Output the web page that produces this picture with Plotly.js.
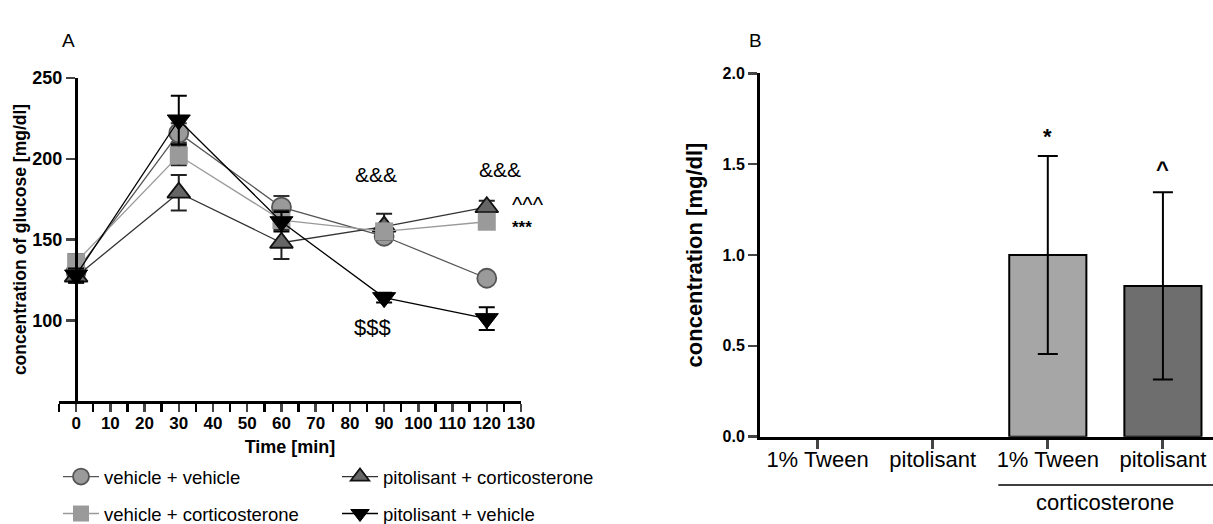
<!DOCTYPE html>
<html>
<head>
<meta charset="utf-8">
<script src="https://cdn.plot.ly/plotly-3.0.1.min.js"></script>
<style>html,body{margin:0;padding:0;background:#fff;}#chart{width:1213px;height:524px;}</style>
</head>
<body>
<div id="chart"></div>
<script>
// ---- Panel A data: glucose over time ----
const timePoints = [0, 30, 60, 90, 120];
const vehVeh = [130, 216, 170, 152, 126];
const vehVehErr = [6, 6, 7, 3, 3];
const vehCort = [136, 202, 162, 155, 161];
const vehCortErr = [5, 6, 6, 4, 4];
const pitCort = [127, 179, 148, 158, 170];
const pitCortErr = [4, 11, 10, 8, 4];
const pitVeh = [128, 224, 161, 114, 101];
const pitVehErr = [4, 15, 6, 3, 7];
const seriesNames = ["vehicle + vehicle", "vehicle + corticosterone", "pitolisant + corticosterone", "pitolisant + vehicle"];

// ---- Panel B data ----
const barCategories = ["1% Tween", "pitolisant", "1% Tween", "pitolisant"];
const barValues = [0, 0, 1.0, 0.83];
const barErrors = [0, 0, 0.545, 0.515];
const barColors = ["#a6a6a6", "#6e6e6e", "#a6a6a6", "#6e6e6e"];
const groupLabel = "corticosterone";

const W = 1213, H = 524;
const px = v => v / W, py = v => 1 - v / H;
const FONT = "Liberation Sans, Arial, sans-serif";

function errA(arr, col) {
  return {type: 'data', array: arr, visible: true, color: col, thickness: 2, width: 8};
}

const traces = [
  {x: timePoints, y: vehVeh, name: seriesNames[0], type: 'scatter', mode: 'lines+markers',
   line: {color: '#555555', width: 1.3},
   marker: {symbol: 'circle', size: 19, color: '#9a9a9a', line: {color: '#555555', width: 1.8}},
   error_y: errA(vehVehErr, '#333'), xaxis: 'x', yaxis: 'y', legend: 'legend'},
  {x: timePoints, y: pitCort, name: seriesNames[2], type: 'scatter', mode: 'lines+markers',
   line: {color: '#333333', width: 1.3},
   marker: {symbol: 'triangle-up', size: 20, color: '#666666', line: {color: '#111111', width: 1.8}},
   error_y: errA(pitCortErr, '#222'), xaxis: 'x', yaxis: 'y', legend: 'legend'},
  {x: timePoints, y: vehCort, name: seriesNames[1], type: 'scatter', mode: 'lines+markers',
   line: {color: '#9a9a9a', width: 1.3},
   marker: {symbol: 'square', size: 18, color: '#9a9a9a', line: {color: '#9a9a9a', width: 0}},
   error_y: errA(vehCortErr, '#222'), xaxis: 'x', yaxis: 'y', legend: 'legend2'},
  {x: timePoints, y: pitVeh, name: seriesNames[3], type: 'scatter', mode: 'lines+markers',
   line: {color: '#000000', width: 1.3},
   marker: {symbol: 'triangle-down', size: 20, color: '#000000', line: {color: '#000', width: 1}},
   error_y: errA(pitVehErr, '#000'), xaxis: 'x', yaxis: 'y', legend: 'legend2'},
  {x: barCategories.map((c, i) => i), y: barValues.map(v => v > 0 ? v : null), type: 'bar', showlegend: false,
   width: 0.67, marker: {color: barColors, line: {color: '#000', width: 2}},
   error_y: {type: 'data', array: barErrors.map(e => e > 0 ? e : null), visible: true, color: '#000', thickness: 2, width: 10},
   xaxis: 'x2', yaxis: 'y2'}
];

const legendFont = {family: FONT, size: 18.5, color: '#000'};

const layout = {
  width: W, height: H,
  margin: {l: 0, r: 0, t: 0, b: 0, autoexpand: false},
  paper_bgcolor: '#fff', plot_bgcolor: 'rgba(0,0,0,0)',
  font: {family: FONT, color: '#000'},
  xaxis: {
    domain: [px(59), px(521)], range: [-5, 130], anchor: 'y',
    tickmode: 'linear', tick0: 0, dtick: 10, ticks: 'outside', ticklen: 8, tickwidth: 2.5,
    minor: {dtick: 5, tick0: 0, ticks: 'outside', ticklen: 8, tickwidth: 2.5, tickcolor: '#000'},
    showline: true, linewidth: 3, linecolor: '#000', showgrid: false, zeroline: false,
    tickfont: {family: FONT, size: 17, color: '#000', weight: 'bold'}, ticklabelstandoff: -3,
    title: {text: 'Time [min]', font: {family: FONT, size: 18, weight: 'bold'}, standoff: 8}
  },
  yaxis: {
    domain: [py(401), py(78)], range: [50, 250], anchor: 'free', position: px(76),
    tickvals: [100, 150, 200, 250], ticks: 'outside', ticklen: 9, tickwidth: 2.5,
    showline: true, linewidth: 3, linecolor: '#000', showgrid: false, zeroline: false,
    tickfont: {family: FONT, size: 18, color: '#000', weight: 'bold'},
    title: {text: 'concentration of glucose [mg/dl]', font: {family: FONT, size: 17.5, weight: 'bold'}, standoff: 0}
  },
  xaxis2: {
    domain: [px(760), px(1213)], range: [-0.5, 3.435], anchor: 'y2',
    tickvals: barCategories.map((c, i) => i), ticktext: barCategories,
    ticks: 'outside', ticklen: 9, tickwidth: 3,
    showline: true, linewidth: 3, linecolor: '#000', showgrid: false, zeroline: false,
    tickfont: {family: FONT, size: 22, color: '#000'}, ticklabelstandoff: -8
  },
  yaxis2: {
    domain: [py(436.7), py(73.3)], range: [0, 2], anchor: 'x2',
    tickvals: [0, 0.5, 1.0, 1.5, 2.0], ticktext: ['0.0', '0.5', '1.0', '1.5', '2.0'],
    ticks: 'outside', ticklen: 9, tickwidth: 2.5,
    showline: true, linewidth: 3, linecolor: '#000', showgrid: false, zeroline: false,
    tickfont: {family: FONT, size: 16, color: '#000', weight: 'bold'},
    title: {text: 'concentration [mg/dl]', font: {family: FONT, size: 22, weight: 'bold'}, standoff: 14}
  },
  showlegend: true,
  legend: {orientation: 'h', x: px(58), y: py(477), xanchor: 'left', yanchor: 'middle',
    entrywidth: 228, entrywidthmode: 'pixels', font: legendFont, itemwidth: 36,
    bgcolor: 'rgba(0,0,0,0)'},
  legend2: {orientation: 'h', x: px(58), y: py(514), xanchor: 'left', yanchor: 'middle',
    entrywidth: 228, entrywidthmode: 'pixels', font: legendFont, itemwidth: 36,
    bgcolor: 'rgba(0,0,0,0)'},
  annotations: [
    {text: 'A', xref: 'paper', yref: 'paper', x: px(68), y: py(40), xanchor: 'center', yanchor: 'middle', showarrow: false, font: {size: 19}},
    {text: 'B', xref: 'paper', yref: 'paper', x: px(755), y: py(40), xanchor: 'center', yanchor: 'middle', showarrow: false, font: {size: 19}},
    {text: '&&&', xref: 'x', yref: 'y', x: 87.6, y: 190, showarrow: false, font: {size: 21}},
    {text: '&&&', xref: 'x', yref: 'y', x: 124, y: 193.4, showarrow: false, font: {size: 21}},
    {text: '$$$', xref: 'x', yref: 'y', x: 86.7, y: 95.5, showarrow: false, font: {size: 22}},
    {text: '^^^', xref: 'x', yref: 'y', x: 126.8, y: 171.5, xanchor: 'left', showarrow: false, font: {size: 22}},
    {text: '***', xref: 'x', yref: 'y', x: 126.8, y: 157.5, xanchor: 'left', showarrow: false, font: {size: 17, weight: 'bold'}},
    {text: '*', xref: 'x2', yref: 'y2', x: 2, y: 1.65, showarrow: false, font: {size: 22, weight: 'bold'}},
    {text: '^', xref: 'x2', yref: 'y2', x: 3, y: 1.47, showarrow: false, font: {size: 22, weight: 'bold'}},
    {text: groupLabel, xref: 'x2', yref: 'paper', x: 2.5, y: py(502), xanchor: 'center', yanchor: 'middle', showarrow: false, font: {size: 22}}
  ],
  shapes: [
    {type: 'line', xref: 'x2', yref: 'paper', x0: 1.57, x1: 3.5, y0: py(485), y1: py(485), line: {color: '#000', width: 1.5}}
  ]
};

Plotly.newPlot('chart', traces, layout, {displayModeBar: false, staticPlot: true});
</script>
</body>
</html>
